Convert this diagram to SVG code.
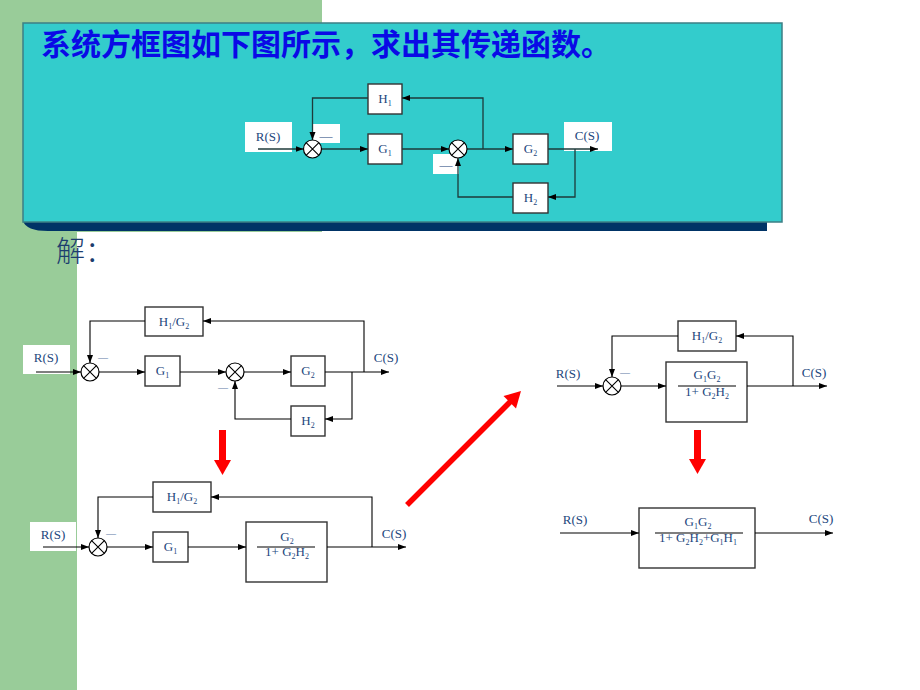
<svg xmlns="http://www.w3.org/2000/svg" width="920" height="690" viewBox="0 0 920 690">
<style>
.t{font-family:"Liberation Serif","Times New Roman",serif;font-size:13px;fill:#23467d;text-anchor:middle}
.s{font-size:8px}
.d{font-family:"Liberation Serif",serif;font-size:10px;fill:#6078a8;text-anchor:middle}
.w{fill:#fff;stroke:none}
.b{fill:#fff;stroke:#333;stroke-width:1.4}
.l{fill:none;stroke:#000;stroke-width:1.1}
.lt{fill:none;stroke:#1e3a3a;stroke-width:1.3}
.a{marker-end:url(#ar)}
.j{fill:#fff;stroke:#000;stroke-width:1.2}
.red{fill:#ff0000}
</style>
<defs>
<marker id="ar" markerUnits="userSpaceOnUse" markerWidth="8" markerHeight="8" viewBox="0 0 8 8" refX="8" refY="4" orient="auto">
<path d="M0,1 L8,4 L0,7 Z" fill="#000"/>
</marker>
<g id="sum"><circle r="9" class="j"/><path d="M-6.4,-6.4 L6.4,6.4 M-6.4,6.4 L6.4,-6.4" stroke="#000" stroke-width="1.1"/></g>
</defs>
<rect width="920" height="690" fill="#fff"/>
<rect x="0" y="0" width="322" height="232" fill="#99cc99"/>
<rect x="0" y="0" width="77" height="690" fill="#99cc99"/>
<path d="M23,221 L767,221 L767,231 L48,231 Q26,231 23,221 Z" fill="#003366"/>
<rect x="23" y="23" width="759" height="199" fill="#33cccc" stroke="#3d7f85" stroke-width="1.5"/>
<text x="41" y="55" font-family="Noto Sans CJK SC,sans-serif" font-size="30" font-weight="bold" fill="#0a0ae6">系统方框图如下图所示，求出其传递函数。</text>
<text x="56" y="262" font-family="Noto Sans CJK SC,sans-serif" font-size="29" font-weight="300" fill="#1c3d6e">解：</text>

<!-- top diagram -->
<g id="top">
<rect x="245" y="122" width="47" height="30" class="w"/>
<text x="268" y="141" class="t">R(S)</text>
<rect x="313" y="124" width="27" height="19" class="w"/>
<text x="326" y="140" class="t" font-size="11" fill="#3a5a8a">—</text>
<rect x="433" y="154" width="26" height="20" class="w"/>
<text x="446" y="169" class="t" font-size="11" fill="#3a5a8a">—</text>
<rect x="564" y="122" width="48" height="29" class="w"/>
<text x="587" y="140" class="t">C(S)</text>
<g id="top-H1"><rect x="368" y="84" width="34" height="30" class="b"/><text x="385" y="103" class="t">H<tspan class="s" dy="3">1</tspan></text></g>
<g id="top-G1"><rect x="368" y="134" width="34" height="30" class="b"/><text x="385" y="153" class="t">G<tspan class="s" dy="3">1</tspan></text></g>
<g id="top-G2"><rect x="513" y="134" width="35" height="30" class="b"/><text x="530.5" y="153" class="t">G<tspan class="s" dy="3">2</tspan></text></g>
<g id="top-H2"><rect x="513" y="183" width="35" height="30" class="b"/><text x="530.5" y="202" class="t">H<tspan class="s" dy="3">2</tspan></text></g>
<g id="top-conn">
<path d="M258,149 H303.5" class="lt a"/>
<path d="M321.5,149 H368" class="lt a"/>
<path d="M402,149 H449" class="lt a"/>
<path d="M467,149 H513" class="lt a"/>
<path d="M483,149 V98 H402" class="lt a"/>
<path d="M368,98 H312.5 V140" class="lt a"/>
<path d="M548,149 H598" class="lt a"/>
<path d="M575,149 V197 H548" class="lt a"/>
<path d="M513,197 H458 V158" class="lt a"/>
</g>
<use href="#sum" x="312.5" y="149"/>
<use href="#sum" x="458" y="149"/>
</g>

<!-- left diagram 1 -->
<g id="l1">
<rect x="23" y="345" width="47" height="29" class="w"/>
<text x="46" y="362" class="t">R(S)</text>
<text x="103" y="361" class="d">—</text>
<text x="223" y="391" class="d">—</text>
<text x="386" y="362" class="t">C(S)</text>
<g id="l1-H1G2"><rect x="145" y="307" width="58" height="29" class="b"/><text x="174" y="326" class="t">H<tspan class="s" dy="3">1</tspan><tspan dy="-3">/G</tspan><tspan class="s" dy="3">2</tspan></text></g>
<g id="l1-G1"><rect x="145" y="356" width="35" height="30" class="b"/><text x="162.5" y="375" class="t">G<tspan class="s" dy="3">1</tspan></text></g>
<g id="l1-G2"><rect x="291" y="356" width="34" height="30" class="b"/><text x="308" y="375" class="t">G<tspan class="s" dy="3">2</tspan></text></g>
<g id="l1-H2"><rect x="291" y="406" width="34" height="30" class="b"/><text x="308" y="425" class="t">H<tspan class="s" dy="3">2</tspan></text></g>
<g id="l1-conn">
<path d="M36,372 H81" class="l a"/>
<path d="M99,372 H145" class="l a"/>
<path d="M180,372 H226" class="l a"/>
<path d="M244,372 H291" class="l a"/>
<path d="M325,372 H389" class="l a"/>
<path d="M364,372 V321 H203" class="l a"/>
<path d="M145,321 H90 V363" class="l a"/>
<path d="M352,372 V419 H325" class="l a"/>
<path d="M291,419 H235 V381" class="l a"/>
</g>
<use href="#sum" x="90" y="372"/>
<use href="#sum" x="235" y="372"/>
</g>

<!-- left diagram 2 -->
<g id="l2">
<rect x="30" y="522" width="46" height="29" class="w"/>
<text x="53" y="539" class="t">R(S)</text>
<text x="111" y="537" class="d">—</text>
<text x="394" y="538" class="t">C(S)</text>
<g id="l2-H1G2"><rect x="153" y="482" width="58" height="30" class="b"/><text x="182" y="501" class="t">H<tspan class="s" dy="3">1</tspan><tspan dy="-3">/G</tspan><tspan class="s" dy="3">2</tspan></text></g>
<g id="l2-G1"><rect x="153" y="532" width="35" height="30" class="b"/><text x="170.5" y="551" class="t">G<tspan class="s" dy="3">1</tspan></text></g>
<g id="l2-F"><rect x="246" y="522" width="81" height="60" class="b"/>
<text x="287" y="540.5" class="t">G<tspan class="s" dy="3">2</tspan></text>
<path d="M257,547 H315" class="l"/>
<text x="287" y="556" class="t">1+ G<tspan class="s" dy="3">2</tspan><tspan dy="-3">H</tspan><tspan class="s" dy="3">2</tspan></text></g>
<g id="l2-conn">
<path d="M43,547 H89" class="l a"/>
<path d="M107,547 H153" class="l a"/>
<path d="M188,547 H246" class="l a"/>
<path d="M327,547 H406" class="l a"/>
<path d="M372,547 V497 H211" class="l a"/>
<path d="M153,497 H98 V538" class="l a"/>
</g>
<use href="#sum" x="98" y="547"/>
</g>

<!-- right diagram 1 -->
<g id="r1">
<text x="568" y="378" class="t">R(S)</text>
<text x="625" y="376" class="d">—</text>
<text x="814" y="377" class="t">C(S)</text>
<g id="r1-H1G2"><rect x="678" y="321" width="58" height="30" class="b"/><text x="707" y="340" class="t">H<tspan class="s" dy="3">1</tspan><tspan dy="-3">/G</tspan><tspan class="s" dy="3">2</tspan></text></g>
<g id="r1-F"><rect x="666" y="362" width="81" height="60" class="b"/>
<text x="707" y="378.5" class="t">G<tspan class="s" dy="3">1</tspan><tspan dy="-3">G</tspan><tspan class="s" dy="3">2</tspan></text>
<path d="M678,386 H736" class="l"/>
<text x="707" y="395.5" class="t">1+ G<tspan class="s" dy="3">2</tspan><tspan dy="-3">H</tspan><tspan class="s" dy="3">2</tspan></text></g>
<g id="r1-conn">
<path d="M557,386 H603" class="l a"/>
<path d="M621,386 H666" class="l a"/>
<path d="M747,386 H827" class="l a"/>
<path d="M793,386 V336 H736" class="l a"/>
<path d="M678,336 H612 V377" class="l a"/>
</g>
<use href="#sum" x="612" y="386"/>
</g>

<!-- right diagram 2 -->
<g id="r2">
<text x="575" y="524" class="t">R(S)</text>
<text x="821" y="523" class="t">C(S)</text>
<g id="r2-F"><rect x="639" y="508" width="116" height="60" class="b"/>
<text x="698" y="525.5" class="t">G<tspan class="s" dy="3">1</tspan><tspan dy="-3">G</tspan><tspan class="s" dy="3">2</tspan></text>
<path d="M655,533 H743" class="l"/>
<text x="698" y="542" class="t">1+ G<tspan class="s" dy="3">2</tspan><tspan dy="-3">H</tspan><tspan class="s" dy="3">2</tspan><tspan dy="-3">+G</tspan><tspan class="s" dy="3">1</tspan><tspan dy="-3">H</tspan><tspan class="s" dy="3">1</tspan></text></g>
<g id="r2-conn">
<path d="M560,533 H639" class="l a"/>
<path d="M755,533 H833" class="l a"/>
</g>
</g>

<!-- red arrows -->
<g id="red-arrows">
<rect x="219" y="430" width="7" height="31" class="red"/>
<path d="M214,460 H231 L222.5,475 Z" class="red"/>
<rect x="694" y="430" width="7" height="30" class="red"/>
<path d="M689,459 H706 L697.5,474 Z" class="red"/>
<path d="M407,505 L511,401" stroke="#ff0000" stroke-width="5.5" fill="none"/>
<path d="M521,391 L503.5,396 L516,408.5 Z" class="red"/>
</g>
</svg>
